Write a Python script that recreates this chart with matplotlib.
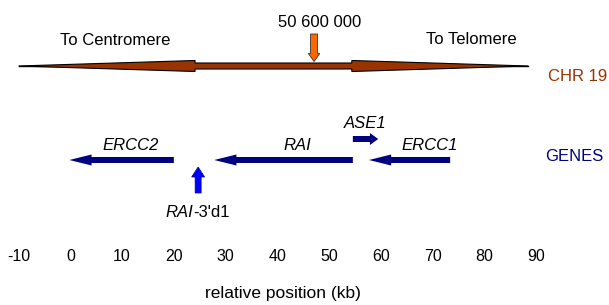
import matplotlib
matplotlib.use("Agg")
from matplotlib import pyplot as plt
from matplotlib.patches import Polygon

plt.rcParams['font.family'] = ['Liberation Sans', 'DejaVu Sans']

# chromosome bar (kb): tips and the bases of the two tapering heads
chr_start, chr_end = -10, 88.5
chr_head_bases = [24.1, 54.4]
marker_kb = 47.1
marker_label = "50 600 000"

# genes: tail -> tip in kb (arrow shows direction of transcription)
genes = ["ERCC2", "RAI", "ASE1", "ERCC1"]
gene_tail = [20.0, 54.6, 54.6, 73.4]
gene_tip = [-0.2, 27.8, 59.5, 57.7]
gene_label_x = [11.6, 43.8, 56.9, 69.5]

probe_kb = 24.7  # RAI-3'd1

ticks = [-10, 0, 10, 20, 30, 40, 50, 60, 70, 80, 90]

brown = "#993300"
navy = "#000080"

fig = plt.figure(figsize=(6.09, 3.05), dpi=100)
ax = fig.add_axes([0, 0, 1, 1])
# x in kb, y in pixels from the top
ax.set_xlim(-13.59, 104.1)
ax.set_ylim(305, 0)
ax.axis("off")

fs = 12

# chromosome
yc = 66
ax.plot([chr_start, chr_end], [yc, yc], color="black", lw=1, zorder=1)
a, b = chr_head_bases
pts = [(chr_start, yc), (a, yc - 5.5), (a, yc - 3), (b, yc - 3), (b, yc - 5.5),
       (chr_end, yc), (b, yc + 5.5), (b, yc + 3), (a, yc + 3), (a, yc + 5.5)]
ax.add_patch(Polygon(pts, closed=True, fc=brown, ec="black", lw=0.8, zorder=2))

# position marker
ax.arrow(marker_kb, 34, 0, 61.5 - 34, width=1.35, head_width=2.2, head_length=8,
         length_includes_head=True, fc="#ff6600", ec="#333333", lw=0.6, zorder=3)
ax.text(marker_kb + 1.0, 27, marker_label, ha="center", va="baseline", fontsize=fs)
ax.text(8.6, 45, "To Centromere", ha="center", va="baseline", fontsize=fs)
ax.text(77.5, 44, "To Telomere", ha="center", va="baseline", fontsize=fs)
ax.text(92.3, 81, "CHR 19", ha="left", va="baseline", fontsize=fs, color=brown)

# genes
for name, t0, t1, lx in zip(genes, gene_tail, gene_tip, gene_label_x):
    if name == "ASE1":
        y, hl, hw, ly = 139, 1.6, 12, 128
    else:
        y, hl, hw, ly = 160, 4.3, 11, 150
    ax.arrow(t0, y, t1 - t0, 0, width=6, head_width=hw, head_length=hl,
             length_includes_head=True, fc=navy, ec=navy, lw=0, zorder=3)
    ax.text(lx, ly, name, ha="center", va="baseline", fontsize=fs, style="italic")

ax.text(91.7, 161, "GENES", ha="left", va="baseline", fontsize=fs, color=navy)

# RAI-3'd1 probe
ax.arrow(probe_kb, 193, 0, 167 - 193, width=1.16, head_width=2.5, head_length=10,
         length_includes_head=True, fc="#0000ff", ec=navy, lw=0.5, zorder=3)
ax.text(23.7, 217, "RAI", ha="right", va="baseline", fontsize=fs, style="italic")
ax.text(23.7, 217, "-3'd1", ha="left", va="baseline", fontsize=fs)

# axis labels
for t in ticks:
    ax.text(t, 261, str(t), ha="center", va="baseline", fontsize=11.5)
ax.text(41.0, 298, "relative position (kb)", ha="center", va="baseline", fontsize=12.5)

fig.savefig("out.png", dpi=100)
